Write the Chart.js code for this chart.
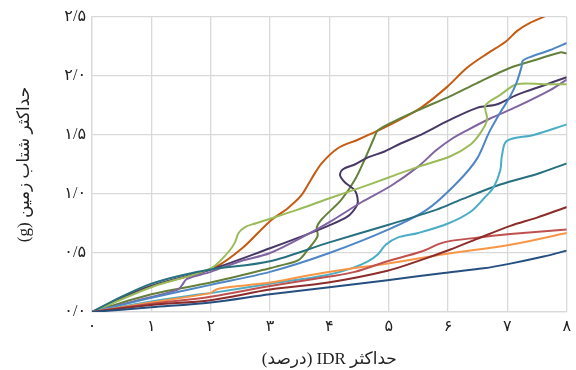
<!DOCTYPE html>
<html>
<head>
<meta charset="utf-8">
<script src="https://cdn.jsdelivr.net/npm/chart.js@4.4.1/dist/chart.umd.min.js"></script>
<style>
  html, body { margin: 0; padding: 0; background: #fff; }
</style>
</head>
<body>
<canvas id="grafico" width="576" height="370"></canvas>
<script>
// Cada curva: pares [IDR maximo (%), PGA (g)]
const curvaMarron = [[0,0],[0.5,0.12],[1.0,0.22],[1.6,0.30],[2.08,0.38],[2.53,0.54],[3.0,0.77],[3.3,0.88],[3.53,0.99],[3.70,1.13],[3.87,1.26],[4.15,1.39],[4.48,1.46],[4.79,1.53],[5.15,1.62],[5.54,1.73],[5.99,1.91],[6.32,2.07],[6.66,2.19],[6.97,2.29],[7.16,2.38],[7.38,2.45],[7.65,2.51]];
const curvaOliva = [[0,0],[1.0,0.15],[2.0,0.25],[3.0,0.37],[3.14,0.39],[3.48,0.44],[3.64,0.53],[3.80,0.64],[3.79,0.72],[3.88,0.79],[4.20,0.95],[4.43,1.12],[4.62,1.32],[4.75,1.47],[4.82,1.54],[5.15,1.63],[5.54,1.72],[6.04,1.83],[6.49,1.94],[7.05,2.07],[7.50,2.14],[7.89,2.20],[8.0,2.19]];
const curvaMoradoOscuro = [[0,0],[1.0,0.22],[2.0,0.36],[3.0,0.54],[3.48,0.63],[3.98,0.73],[4.31,0.81],[4.45,0.89],[4.48,0.94],[4.43,1.03],[4.26,1.10],[4.18,1.16],[4.23,1.21],[4.43,1.25],[4.65,1.31],[4.93,1.36],[5.21,1.43],[5.49,1.49],[6.04,1.63],[6.49,1.73],[6.83,1.76],[7.16,1.84],[7.61,1.92],[8.0,1.99]];
const curvaMorado = [[0,0],[0.7,0.09],[1.45,0.19],[1.52,0.23],[1.6,0.28],[2.0,0.34],[2.5,0.43],[3.0,0.50],[3.64,0.66],[4.03,0.77],[4.54,0.93],[5.04,1.07],[5.49,1.23],[5.8,1.37],[6.04,1.46],[6.32,1.54],[6.71,1.64],[7.16,1.74],[7.72,1.88],[8.0,1.97]];
const curvaVerdeClaro = [[0,0],[1.0,0.21],[2.0,0.37],[2.30,0.51],[2.41,0.59],[2.47,0.67],[2.58,0.72],[2.75,0.75],[3.0,0.79],[3.48,0.87],[3.98,0.96],[4.5,1.05],[5.0,1.14],[5.49,1.23],[6.04,1.32],[6.38,1.42],[6.55,1.52],[6.66,1.63],[6.63,1.75],[6.88,1.84],[7.16,1.93],[7.61,1.93],[8.0,1.93]];
const curvaAzul = [[0,0],[1.0,0.12],[2.0,0.23],[3.0,0.34],[4.0,0.50],[5.0,0.70],[5.65,0.87],[6.16,1.10],[6.49,1.30],[6.69,1.52],[6.88,1.69],[7.05,1.83],[7.16,1.95],[7.24,2.08],[7.26,2.13],[7.38,2.16],[7.72,2.22],[8.0,2.28]];
const curvaTurquesa = [[0,0],[0.5,0.13],[1.0,0.24],[1.5,0.31],[2.0,0.36],[3.0,0.43],[4.0,0.59],[5.0,0.74],[5.82,0.87],[6.16,0.94],[6.88,1.08],[7.5,1.17],[8.0,1.26]];
const curvaCian = [[0,0],[1.0,0.09],[1.83,0.15],[2.0,0.16],[3.0,0.24],[3.92,0.31],[4.37,0.37],[4.65,0.43],[4.82,0.49],[4.95,0.57],[5.15,0.63],[5.5,0.67],[6.0,0.75],[6.38,0.85],[6.60,0.96],[6.77,1.06],[6.88,1.20],[6.91,1.33],[6.99,1.45],[7.44,1.50],[8.0,1.59]];
const curvaNaranja = [[0,0],[1.0,0.08],[2.0,0.16],[2.05,0.18],[2.15,0.20],[3.0,0.25],[3.64,0.31],[4.26,0.36],[4.98,0.41],[5.93,0.49],[7.05,0.57],[8.0,0.67]];
const curvaRoja = [[0,0],[1.0,0.07],[2.0,0.13],[3.0,0.22],[4.0,0.30],[4.43,0.34],[4.98,0.43],[5.54,0.51],[5.93,0.59],[6.49,0.63],[7.05,0.66],[8.0,0.70]];
const curvaGranate = [[0,0],[1.0,0.06],[2.0,0.10],[3.0,0.19],[3.98,0.25],[4.98,0.35],[5.54,0.44],[6.04,0.53],[6.49,0.62],[7.05,0.73],[7.5,0.80],[8.0,0.89]];
const curvaMarino = [[0,0],[1.0,0.04],[2.0,0.08],[3.0,0.15],[4.0,0.21],[4.98,0.27],[5.93,0.33],[6.60,0.37],[7.05,0.41],[7.61,0.47],[8.0,0.52]];

// Ticks de los ejes
const ticksX = [0, 1, 2, 3, 4, 5, 6, 7, 8];
const ticksY = [0, 0.5, 1.0, 1.5, 2.0, 2.5];

const tituloX = 'حداکثر IDR (درصد)';
const tituloY = 'حداکثر شتاب زمین (g)';

const digitosPersas = ['۰','۱','۲','۳','۴','۵','۶','۷','۸','۹'];
function aPersa(texto) {
    return texto.replace(/[0-9]/g, d => digitosPersas[+d]).replace('.', '/');
}
// envolver en embebido RTL para el orden visual correcto
function rtl(texto) {
    return '\u202B' + texto + '\u202C';
}

const series = [
    { datos: curvaMarino, color: '#264f80' },
    { datos: curvaGranate, color: '#8c2d2b' },
    { datos: curvaRoja, color: '#c0504d' },
    { datos: curvaNaranja, color: '#f79646' },
    { datos: curvaCian, color: '#4bacc6' },
    { datos: curvaTurquesa, color: '#27707f' },
    { datos: curvaAzul, color: '#4f86c6' },
    { datos: curvaVerdeClaro, color: '#9bbb59' },
    { datos: curvaMorado, color: '#8064a2' },
    { datos: curvaMoradoOscuro, color: '#473866' },
    { datos: curvaOliva, color: '#64803a' },
    { datos: curvaMarron, color: '#c55a11' }
];

const datasets = series.map(s => ({
    data: s.datos.map(p => ({ x: p[0], y: p[1] })),
    borderColor: s.color,
    backgroundColor: s.color,
    borderWidth: 2,
    showLine: true,
    pointRadius: 0,
    tension: 0.32,
    fill: false
}));

const fuente = "'Liberation Serif', 'DejaVu Sans', serif";

new Chart(document.getElementById('grafico'), {
    type: 'scatter',
    data: { datasets },
    options: {
        responsive: false,
        devicePixelRatio: 1,
        animation: false,
        layout: { padding: { top: 17, right: 6, left: 0, bottom: 0 } },
        plugins: { legend: { display: false }, tooltip: { enabled: false } },
        scales: {
            x: {
                type: 'linear',
                min: 0,
                max: 8,
                afterBuildTicks: scale => { scale.ticks = ticksX.map(v => ({ value: v })); },
                afterFit: scale => { scale.height = 58; },
                grid: { color: '#d9d9d9', lineWidth: 1.3, drawTicks: false },
                border: { color: '#d9d9d9', width: 1.3 },
                ticks: {
                    padding: 5,
                    color: '#222',
                    font: { family: fuente, size: 16 },
                    callback: v => aPersa(String(v))
                },
                title: {
                    display: true,
                    text: rtl(tituloX),
                    color: '#222',
                    font: { family: fuente, size: 17 },
                    padding: { top: 12, bottom: 0 }
                }
            },
            y: {
                type: 'linear',
                min: 0,
                max: 2.5,
                afterBuildTicks: scale => { scale.ticks = ticksY.map(v => ({ value: v })); },
                afterFit: scale => { scale.width = 92; },
                grid: { color: '#d9d9d9', lineWidth: 1.3, drawTicks: false },
                border: { color: '#d9d9d9', width: 1.3 },
                ticks: {
                    padding: 6,
                    color: '#222',
                    font: { family: fuente, size: 16 },
                    callback: v => aPersa(v.toFixed(1))
                },
                title: {
                    display: true,
                    text: rtl(tituloY),
                    color: '#222',
                    font: { family: fuente, size: 17 },
                    padding: { top: 14, bottom: 0 }
                }
            }
        }
    }
});
</script>
</body>
</html>
